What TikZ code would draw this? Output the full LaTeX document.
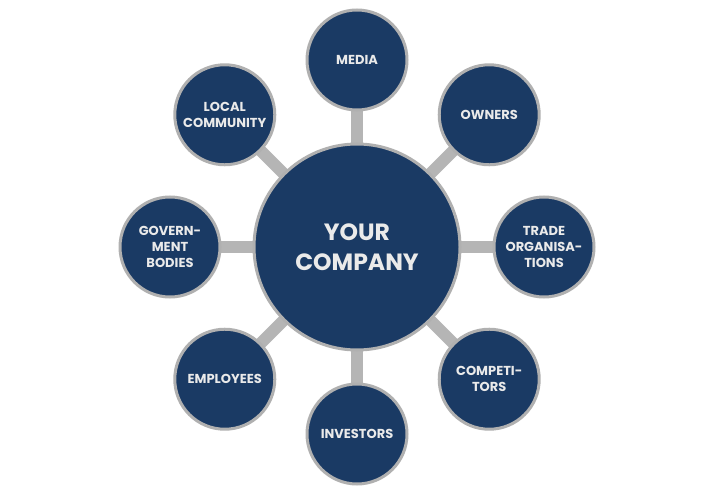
\documentclass[tikz,border=0pt]{standalone}
\usepackage{fontspec}
\setmainfont{Poppins}
\usetikzlibrary{calc}
\definecolor{navy}{HTML}{1A3A64}
\definecolor{ring}{HTML}{B0B0B0}
\definecolor{bar}{HTML}{B5B5B5}
\definecolor{txt}{HTML}{EAEAEA}
\begin{document}
\begin{tikzpicture}[x=1pt,y=1pt,
  hub/.style={circle,fill=navy,draw=ring,line width=3pt,minimum size=206pt,inner sep=0pt,
    text=txt,font=\fontsize{23.5}{30}\selectfont\bfseries,align=center},
  sat/.style={circle,fill=navy,draw=ring,line width=3pt,minimum size=100pt,inner sep=0pt,
    text=txt,font=\fontsize{13}{15.8}\selectfont\bfseries,align=center},
  link/.style={draw=bar,line width=12pt}]
\useasboundingbox[fill=white] (0,0) rectangle (714,496);
\coordinate (c) at (357,249);
\coordinate (p1) at ($(c)+(90:187)$);
\coordinate (p2) at ($(c)+(45:187)$);
\coordinate (p3) at ($(c)+(0:187)$);
\coordinate (p4) at ($(c)+(-45:187)$);
\coordinate (p5) at ($(c)+(-90:187)$);
\coordinate (p6) at ($(c)+(-135:187)$);
\coordinate (p7) at ($(c)+(180:187)$);
\coordinate (p8) at ($(c)+(135:187)$);
\foreach \i in {1,...,8} {\draw[link] (c) -- (p\i);}
\node[hub] (hub) at (c) {YOUR\\COMPANY};
\node[sat] (media) at (p1) {MEDIA};
\node[sat] (owners) at (p2) {OWNERS};
\node[sat] (trade) at (p3) {TRADE\\ORGANISA-\\TIONS};
\node[sat] (comp) at (p4) {COMPETI-\\TORS};
\node[sat] (inv) at (p5) {INVESTORS};
\node[sat] (emp) at (p6) {EMPLOYEES};
\node[sat] (gov) at (p7) {GOVERN-\\MENT\\BODIES};
\node[sat] (local) at (p8) {LOCAL\\COMMUNITY};
\end{tikzpicture}
\end{document}
